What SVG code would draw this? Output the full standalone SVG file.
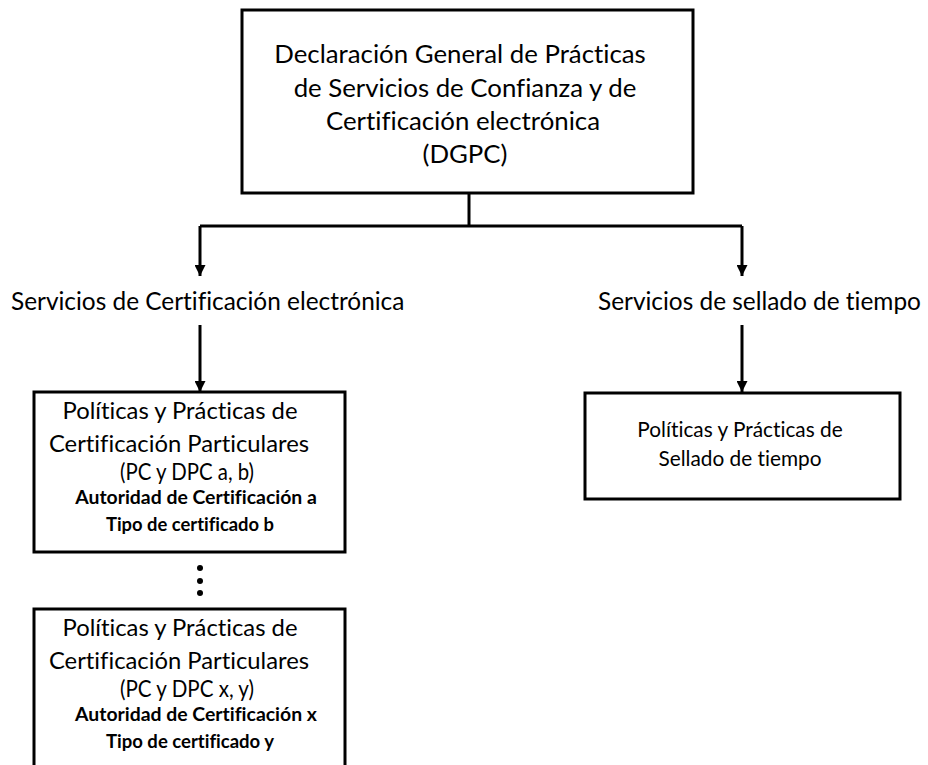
<svg xmlns="http://www.w3.org/2000/svg" width="928" height="765" viewBox="0 0 928 765">
<style>
  .box { fill: #ffffff; stroke: #000000; stroke-width: 3; }
  .t { font-family: Lato, "Open Sans", "Liberation Sans", sans-serif; fill: #000000; text-anchor: middle; font-variant-ligatures: none; font-feature-settings: "liga" 0, "dlig" 0; }
  .big { font-size: 25.8px; }
  .lbl { font-size: 24.4px; text-anchor: start; }
  .mid { font-size: 23.8px; }
  .sm { font-size: 19.4px; font-weight: bold; }
  .rt { font-size: 20.8px; }
  .conn { fill: none; stroke: #000000; stroke-width: 3; }
</style>
<defs>
  <marker id="arrow" markerUnits="userSpaceOnUse" markerWidth="12" markerHeight="11" refX="11" refY="5.5" orient="auto">
    <path d="M0,0 L11,5.5 L0,11 Z" fill="#000000"/>
  </marker>
</defs>
<rect width="928" height="765" fill="#ffffff"/>
<g id="connectors">
  <path class="conn" d="M469 193 V226"/>
  <path class="conn" d="M200 226 H742"/>
  <path class="conn" d="M200 226 V276" marker-end="url(#arrow)"/>
  <path class="conn" d="M742 226 V276" marker-end="url(#arrow)"/>
  <path class="conn" d="M200 325 V392" marker-end="url(#arrow)"/>
  <path class="conn" d="M742 325 V392" marker-end="url(#arrow)"/>
</g>
<g id="dgpc">
  <rect class="box" x="242" y="10" width="451" height="183"/>
  <text class="t big" x="460" y="63">Declaración General de Prácticas</text>
  <text class="t big" x="465" y="97">de Servicios de Confianza y de</text>
  <text class="t big" x="463" y="130">Certificación electrónica</text>
  <text class="t big" x="465" y="163">(DGPC)</text>
</g>
<g id="servicios-certificacion">
  <text class="t lbl" x="11" y="310">Servicios de Certificación electrónica</text>
</g>
<g id="servicios-sellado">
  <text class="t lbl" x="598" y="310">Servicios de sellado de tiempo</text>
</g>
<g id="pc-dpc-ab">
  <rect class="box" x="34" y="392" width="311" height="160"/>
  <text class="t mid" x="180" y="419">Políticas y Prácticas de</text>
  <text class="t mid" x="179" y="452">Certificación Particulares</text>
  <text class="t mid" x="187" y="480" textLength="134" lengthAdjust="spacingAndGlyphs">(PC y DPC a, b)</text>
  <text class="t sm" x="196" y="504">Autoridad de Certificación a</text>
  <text class="t sm" x="190" y="531" textLength="168" lengthAdjust="spacingAndGlyphs">Tipo de certificado b</text>
</g>
<g id="ellipsis">
  <circle cx="200" cy="568" r="3"/>
  <circle cx="200" cy="581" r="3"/>
  <circle cx="200" cy="593" r="3"/>
</g>
<g id="pc-dpc-xy">
  <rect class="box" x="34" y="609" width="311" height="170"/>
  <text class="t mid" x="180" y="636">Políticas y Prácticas de</text>
  <text class="t mid" x="179" y="669">Certificación Particulares</text>
  <text class="t mid" x="187" y="697" textLength="134" lengthAdjust="spacingAndGlyphs">(PC y DPC x, y)</text>
  <text class="t sm" x="196" y="721">Autoridad de Certificación x</text>
  <text class="t sm" x="190" y="748" textLength="168" lengthAdjust="spacingAndGlyphs">Tipo de certificado y</text>
</g>
<g id="sellado">
  <rect class="box" x="585" y="393" width="315" height="106"/>
  <text class="t rt" x="740" y="437">Políticas y Prácticas de</text>
  <text class="t rt" x="740" y="466">Sellado de tiempo</text>
</g>
</svg>
